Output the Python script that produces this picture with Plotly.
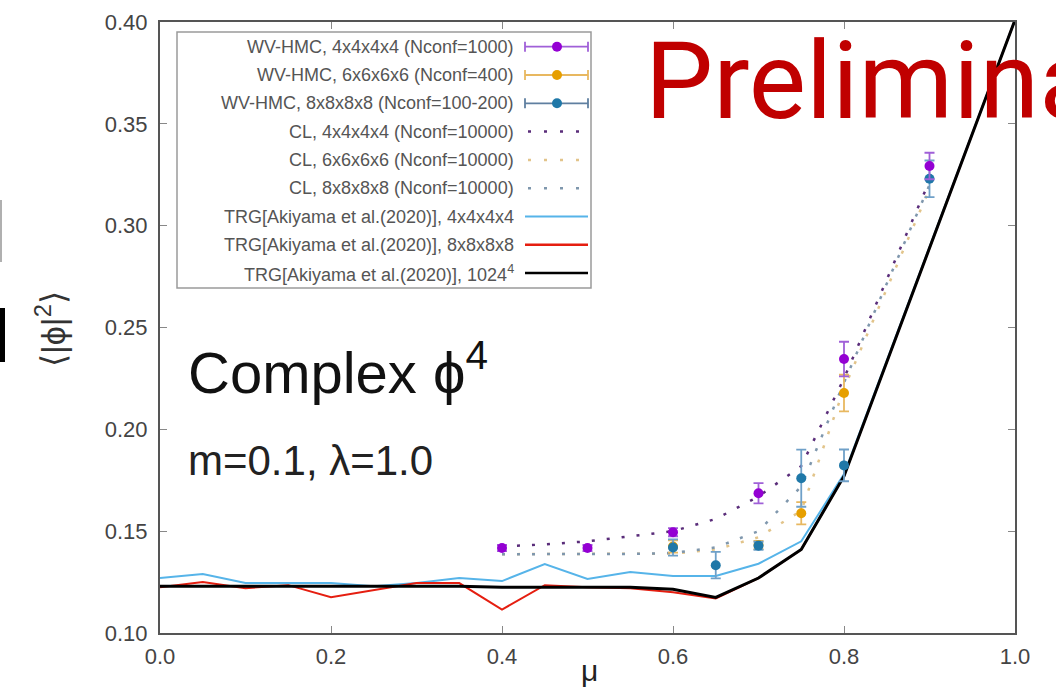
import plotly.graph_objects as go

# ---------------- data ----------------
mu_trg = [0.0, 0.05, 0.10, 0.15, 0.20, 0.25, 0.30, 0.35, 0.40, 0.45, 0.50,
          0.55, 0.60, 0.65, 0.70, 0.75, 0.80, 1.00]
trg_4 = [0.127, 0.129, 0.1245, 0.1245, 0.1245, 0.123, 0.1245, 0.127, 0.1255, 0.1338, 0.1265,
         0.130, 0.128, 0.128, 0.134, 0.145, 0.178, 0.401]
trg_8 = [0.1225, 0.125, 0.122, 0.1235, 0.1176, 0.121, 0.1245, 0.1245, 0.1115, 0.1235, 0.1225,
         0.122, 0.120, 0.117, 0.127, 0.141, 0.177, 0.401]
trg_inf = [0.123, 0.123, 0.123, 0.123, 0.123, 0.123, 0.123, 0.123, 0.1225, 0.1225, 0.1225,
           0.1225, 0.1215, 0.1175, 0.127, 0.141, 0.177, 0.401]

cl_mu = [0.40, 0.45, 0.50, 0.55, 0.60, 0.65, 0.70, 0.75, 0.80, 0.90]
cl_4 = [0.1425, 0.1435, 0.145, 0.1475, 0.150, 0.156, 0.167, 0.182, 0.225, 0.322]
cl_6 = [0.1387, 0.1387, 0.1387, 0.1388, 0.139, 0.141, 0.147, 0.160, 0.220, 0.318]
cl_8 = [0.1387, 0.1387, 0.1387, 0.1388, 0.1393, 0.142, 0.150, 0.172, 0.223, 0.320]

hmc4_mu = [0.4, 0.5, 0.6, 0.7, 0.8, 0.9]
hmc4_val = [0.1417, 0.1417, 0.1495, 0.1686, 0.2345, 0.3293]
hmc4_err = [0.0015, 0.0015, 0.002, 0.005, 0.0085, 0.0065]

hmc6_mu = [0.6, 0.7, 0.75, 0.8]
hmc6_val = [0.1425, 0.1432, 0.1588, 0.2178]
hmc6_err = [0.003, 0.002, 0.0055, 0.009]

hmc8_mu = [0.6, 0.65, 0.7, 0.75, 0.8, 0.9]
hmc8_val = [0.142, 0.1333, 0.1428, 0.176, 0.1823, 0.323]
hmc8_err = [0.004, 0.0065, 0.002, 0.014, 0.0078, 0.009]

x_ticks = [0.0, 0.2, 0.4, 0.6, 0.8, 1.0]
x_ticktext = ["0.0", "0.2", "0.4", "0.6", "0.8", "1.0"]
y_ticks = [0.10, 0.15, 0.20, 0.25, 0.30, 0.35, 0.40]
y_ticktext = ["0.10", "0.15", "0.20", "0.25", "0.30", "0.35", "0.40"]

legend_labels = [
    "WV-HMC, 4x4x4x4 (Nconf=1000)",
    "WV-HMC, 6x6x6x6 (Nconf=400)",
    "WV-HMC, 8x8x8x8 (Nconf=100-200)",
    "CL, 4x4x4x4 (Nconf=10000)",
    "CL, 6x6x6x6 (Nconf=10000)",
    "CL, 8x8x8x8 (Nconf=10000)",
    "TRG[Akiyama et al.(2020)], 4x4x4x4",
    "TRG[Akiyama et al.(2020)], 8x8x8x8",
    "TRG[Akiyama et al.(2020)], 1024<sup>4</sup>",
]

# ---------------- style ----------------
W, H = 1056, 689
ML, MR, MT, MB = 160, 41, 22, 56
PW, PH = W - ML - MR, H - MT - MB

C_PURPLE = "#9400d3"
C_ORANGE = "#e69f00"
C_BLUE = "#1f78a8"
C_CL4 = "#5a2d7a"
C_CL6 = "#e2c48a"
C_CL8 = "#7f97ad"
C_TRG4 = "#56b4e9"
C_TRG8 = "#e51e10"
C_TRGINF = "#000000"
FONT = "Liberation Sans, Arial, sans-serif"
CL_DASH = "3px,12px"


def px(xp):
    return (xp - ML) / PW


def py(yp):
    return (H - MB - yp) / PH


fig = go.Figure()

# TRG lines
fig.add_trace(go.Scatter(x=mu_trg, y=trg_4, mode="lines",
                         line=dict(color=C_TRG4, width=2)))
fig.add_trace(go.Scatter(x=mu_trg, y=trg_8, mode="lines",
                         line=dict(color=C_TRG8, width=2)))
fig.add_trace(go.Scatter(x=mu_trg, y=trg_inf, mode="lines",
                         line=dict(color=C_TRGINF, width=3)))

# CL dotted lines
for vals, col in [(cl_6, C_CL6), (cl_8, C_CL8), (cl_4, C_CL4)]:
    fig.add_trace(go.Scatter(x=cl_mu, y=vals, mode="lines",
                             line=dict(color=col, width=2.5, dash=CL_DASH)))

# WV-HMC points
for mu, val, err, col, ecol in [
    (hmc6_mu, hmc6_val, hmc6_err, C_ORANGE, "#e8b860"),
    (hmc8_mu, hmc8_val, hmc8_err, C_BLUE, "#6fa0c8"),
    (hmc4_mu, hmc4_val, hmc4_err, C_PURPLE, "#a060d8"),
]:
    fig.add_trace(go.Scatter(
        x=mu, y=val, mode="markers",
        marker=dict(color=col, size=10),
        error_y=dict(type="data", array=err, color=ecol, thickness=1.8, width=5),
    ))

# ---------------- custom legend (gnuplot style) ----------------
shapes = []
annotations = []
shapes.append(dict(type="rect", xref="paper", yref="paper",
                   x0=px(177), x1=px(591), y0=py(32), y1=py(288),
                   line=dict(color="#9a9a9a", width=1.5), fillcolor="white", layer="below"))
row_y = [46.7 + 28.3 * i for i in range(9)]
lx0, lx1, lxm = 525, 588, 557
sample_styles = [
    ("err", C_PURPLE, "#a060d8"),
    ("err", C_ORANGE, "#e8b860"),
    ("err", C_BLUE, "#5f7fa0"),
    ("dot", C_CL4, None),
    ("dot", C_CL6, None),
    ("dot", C_CL8, None),
    ("solid", C_TRG4, 2),
    ("solid", C_TRG8, 2.5),
    ("solid", C_TRGINF, 2.5),
]
for i, (lab, (kind, col, extra)) in enumerate(zip(legend_labels, sample_styles)):
    yy = row_y[i]
    annotations.append(dict(xref="paper", yref="paper", x=px(516), y=py(yy),
                            xanchor="right", yanchor="middle", text=lab, showarrow=False,
                            font=dict(family=FONT, size=18, color="#555555")))
    if kind == "err":
        shapes.append(dict(type="line", xref="paper", yref="paper",
                           x0=px(lx0), x1=px(lx1), y0=py(yy), y1=py(yy),
                           line=dict(color=extra, width=1.8)))
        for xe in (lx0, lx1):
            shapes.append(dict(type="line", xref="paper", yref="paper",
                               x0=px(xe), x1=px(xe), y0=py(yy - 5), y1=py(yy + 5),
                               line=dict(color=extra, width=1.8)))
        shapes.append(dict(type="circle", xref="paper", yref="paper",
                           x0=px(lxm - 5), x1=px(lxm + 5), y0=py(yy + 5), y1=py(yy - 5),
                           fillcolor=col, line=dict(color=col, width=0)))
    elif kind == "dot":
        shapes.append(dict(type="line", xref="paper", yref="paper",
                           x0=px(lx0 + 3), x1=px(lx1), y0=py(yy), y1=py(yy),
                           line=dict(color=col, width=2.5, dash="3px,13px")))
    else:
        shapes.append(dict(type="line", xref="paper", yref="paper",
                           x0=px(lx0), x1=px(lx1), y0=py(yy), y1=py(yy),
                           line=dict(color=col, width=extra)))

# text labels in plot
annotations.append(dict(xref="paper", yref="paper", x=px(186), y=py(368),
                        xanchor="left", yanchor="middle", showarrow=False,
                        text="Complex ϕ<sup>4</sup>",
                        font=dict(family=FONT, size=58, color="#111111")))
annotations.append(dict(xref="paper", yref="paper", x=px(186), y=py(460),
                        xanchor="left", yanchor="middle", showarrow=False,
                        text="m=0.1, λ=1.0",
                        font=dict(family=FONT, size=42, color="#222222")))
annotations.append(dict(xref="paper", yref="paper", x=px(643), y=py(81),
                        xanchor="left", yanchor="middle", showarrow=False,
                        text="Preliminary",
                        font=dict(family="Roboto, Noto Sans, sans-serif", size=108, color="#c00000")))
# axis titles
annotations.append(dict(xref="paper", yref="paper", x=px(50), y=py(329),
                        xanchor="center", yanchor="middle", showarrow=False, textangle=-90,
                        text="⟨|ϕ|<sup>2</sup>⟩",
                        font=dict(family=FONT, size=34, color="#333333")))
annotations.append(dict(xref="paper", yref="paper", x=px(589), y=py(670),
                        xanchor="center", yanchor="middle", showarrow=False,
                        text="μ",
                        font=dict(family=FONT, size=30, color="#222222")))

# cut-off slide content at the left edge
shapes.append(dict(type="rect", xref="paper", yref="paper",
                   x0=px(-2), x1=px(2), y0=py(262), y1=py(200),
                   fillcolor="#b0b0b0", line=dict(width=0)))
shapes.append(dict(type="rect", xref="paper", yref="paper",
                   x0=px(-2), x1=px(5), y0=py(362), y1=py(308),
                   fillcolor="#000000", line=dict(width=0)))

axis_common = dict(
    showgrid=False, zeroline=False, showline=True, linecolor="#555555", linewidth=2,
    mirror="ticks", ticks="inside", ticklen=7, tickcolor="#888888", tickwidth=1.2,
    tickfont=dict(family=FONT, size=22, color="#444444"), automargin=False,
)

fig.update_layout(
    width=W, height=H, autosize=False,
    margin=dict(l=ML, r=MR, t=MT, b=MB, autoexpand=False),
    plot_bgcolor="white", paper_bgcolor="white",
    showlegend=False,
    xaxis=dict(range=[0, 1], tickvals=x_ticks, ticktext=x_ticktext, ticklabelstandoff=3,
               **axis_common),
    yaxis=dict(range=[0.10, 0.40], tickvals=y_ticks, ticktext=y_ticktext, ticklabelstandoff=6,
               **axis_common),
    shapes=shapes,
    annotations=annotations,
)

fig.write_html("out.html", config={"displayModeBar": False},
               post_script="document.body.style.margin='0';document.body.style.padding='0';")
